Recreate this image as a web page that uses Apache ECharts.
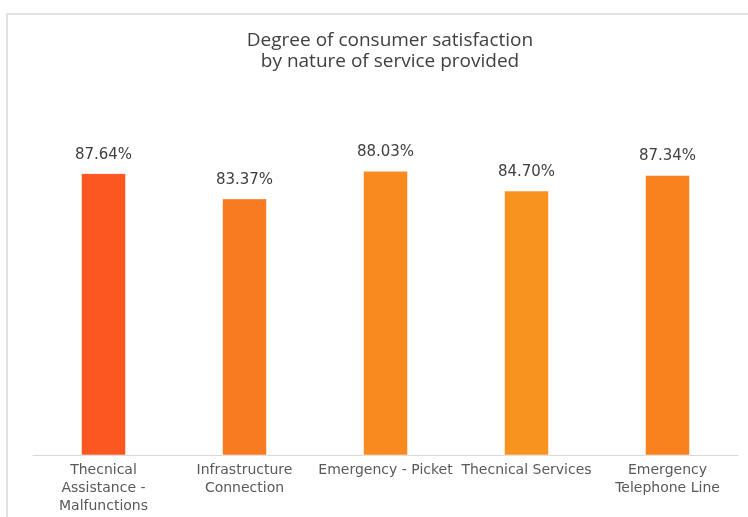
<!DOCTYPE html>
<html>
<head>
<meta charset="utf-8">
<script src="https://cdn.jsdelivr.net/npm/echarts@6/dist/echarts.min.js"></script>
<style>
  html, body { margin: 0; padding: 0; background: #fff; }
  #chart { width: 748px; height: 517px; }
</style>
</head>
<body>
<div id="chart"></div>
<script>
// categories and values
var categories = [
    'Thecnical\nAssistance -\nMalfunctions',
    'Infrastructure\nConnection',
    'Emergency - Picket',
    'Thecnical Services',
    'Emergency\nTelephone Line'
];
var satisfaction = [87.64, 83.37, 88.03, 84.70, 87.34];
var barColors = ['#FC5621', '#F87A21', '#F98A1F', '#F8931F', '#F9821F'];

var myChart = echarts.init(document.getElementById('chart'));

var option = {
    backgroundColor: '#fff',
    animation: false,
    title: {
        text: 'Degree of consumer satisfaction\nby nature of service provided',
        left: 385,
        textAlign: 'center',
        top: 25,
        textStyle: {
            fontFamily: 'Open Sans',
            fontWeight: 'normal',
            fontSize: 19,
            lineHeight: 21,
            color: '#404040'
        }
    },
    graphic: [{
        type: 'rect',
        shape: { x: 7, y: 14, width: 760, height: 520 },
        style: { fill: 'none', stroke: '#d9d9d9', lineWidth: 1.5 },
        silent: true
    }],
    grid: {
        left: 33,
        right: 10,
        top: 100,
        bottom: 62
    },
    xAxis: {
        type: 'category',
        data: categories,
        axisLine: { lineStyle: { color: '#d9d9d9', width: 1 } },
        axisTick: { show: false },
        axisLabel: {
            interval: 0,
            margin: 6,
            color: '#595959',
            fontFamily: 'DejaVu Sans',
            fontSize: 14,
            lineHeight: 18
        }
    },
    yAxis: {
        type: 'value',
        min: 40,
        max: 100,
        show: false,
        splitLine: { show: false }
    },
    series: [{
        type: 'bar',
        barWidth: 45,
        data: satisfaction.map(function (v, i) {
            return { value: v, itemStyle: { color: barColors[i] } };
        }),
        itemStyle: { borderColor: 'rgba(255,255,255,0.5)', borderWidth: 1 },
        label: {
            show: true,
            position: 'top',
            distance: 11,
            formatter: function (p) { return p.value.toFixed(2) + '%'; },
            color: '#404040',
            fontFamily: 'DejaVu Sans',
            fontSize: 15
        }
    }]
};

myChart.setOption(option);
</script>
</body>
</html>
